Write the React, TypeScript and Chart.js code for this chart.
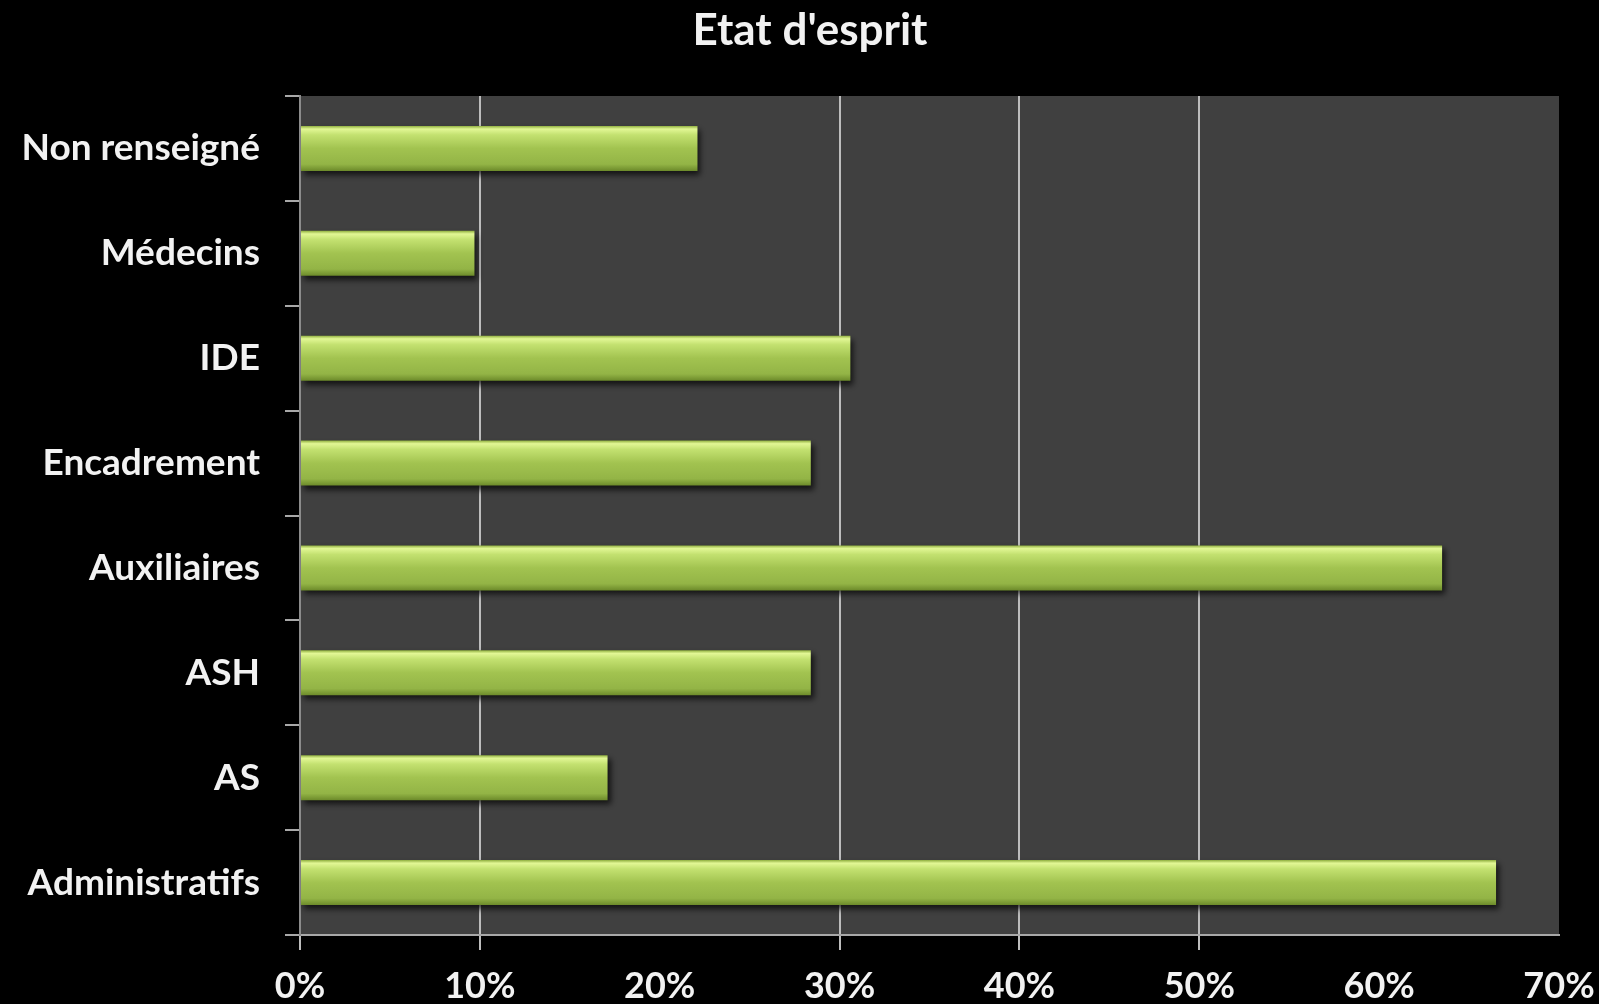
import React, { useEffect, useRef } from "react";
import { Chart, registerables } from "chart.js";

Chart.register(...registerables);

const TITLE = "Etat d'esprit";
const CATEGORIES = ["Non renseigné", "Médecins", "IDE", "Encadrement", "Auxiliaires", "ASH", "AS", "Administratifs"];
const SERIES = [22.1, 9.7, 30.6, 28.4, 63.5, 28.4, 17.1, 66.5];
const X_TICKS = [0, 10, 20, 30, 40, 50, 60, 70];
const GRID_SHOWN = [0, 10, 30, 40, 50];

const shadowPlugin = {
  id: "barShadow",
  beforeDatasetsDraw(chart: any) {
    const c = chart.ctx;
    c.save();
    c.shadowColor = "rgba(0,0,0,0.7)";
    c.shadowBlur = 6;
    c.shadowOffsetX = 3;
    c.shadowOffsetY = 4;
  },
  afterDatasetsDraw(chart: any) {
    chart.ctx.restore();
  },
};

const plotBgPlugin = {
  id: "plotBg",
  beforeDraw(chart: any) {
    const { ctx, chartArea } = chart;
    if (!chartArea) return;
    ctx.save();
    ctx.fillStyle = "#000000";
    ctx.fillRect(0, 0, chart.width, chart.height);
    ctx.fillStyle = "#404040";
    ctx.fillRect(chartArea.left, chartArea.top, chartArea.right - chartArea.left, chartArea.bottom - chartArea.top);
    ctx.restore();
  },
};

const titlePlugin = {
  id: "customTitle",
  afterDraw(chart: any) {
    const ctx = chart.ctx;
    ctx.save();
    ctx.fillStyle = "#f2f2f2";
    ctx.font = "bold 44px Lato";
    ctx.textAlign = "center";
    ctx.textBaseline = "middle";
    ctx.fillText(TITLE, 810, 31);
    ctx.restore();
  },
};

export default function App() {
  const ref = useRef<HTMLCanvasElement | null>(null);
  useEffect(() => {
    document.body.style.margin = "0";
    document.body.style.background = "#000";
    const canvas = ref.current!;
    const BAR_FRAC = 0.43;
    const chart = new Chart(canvas, {
      type: "bar",
      data: {
        labels: CATEGORIES,
        datasets: [
          {
            data: SERIES,
            backgroundColor: (ctx: any) => {
              const ch = ctx.chart;
              const ys = ch.scales && ch.scales.y;
              if (!ys || !ch.chartArea || ctx.dataIndex === undefined) return "#9bbb59";
              const yc = ys.getPixelForValue(ctx.dataIndex);
              const step = (ch.chartArea.bottom - ch.chartArea.top) / CATEGORIES.length;
              const h = step * BAR_FRAC;
              const g = ch.ctx.createLinearGradient(0, yc - h / 2, 0, yc + h / 2);
              g.addColorStop(0, "#8fae3e");
              g.addColorStop(0.07, "#e2f795");
              g.addColorStop(0.2, "#c3e170");
              g.addColorStop(0.5, "#a2c350");
              g.addColorStop(0.85, "#93b446");
              g.addColorStop(1, "#6c8a2a");
              return g;
            },
            borderWidth: 0,
            categoryPercentage: 1,
            barPercentage: BAR_FRAC,
          },
        ],
      },
      options: {
        indexAxis: "y",
        animation: false,
        responsive: false,
        maintainAspectRatio: false,
        layout: { padding: { left: 0, right: 40, top: 96, bottom: 0 } },
        plugins: {
          legend: { display: false },
          tooltip: { enabled: false },
          title: { display: false },
        },
        scales: {
          x: {
            min: 0,
            max: 70,
            afterBuildTicks: (scale: any) => {
              scale.ticks = X_TICKS.map((v) => ({ value: v }));
            },
            afterFit: (scale: any) => {
              scale.height = 69;
              scale.paddingLeft = 0;
              scale.paddingRight = 0;
            },
            ticks: {
              color: "#f2f2f2",
              font: { family: "Lato", size: 36, weight: "bold" },
              padding: 15,
              maxRotation: 0,
              autoSkip: false,
              callback: (v: any) => v + "%",
            },
            grid: {
              color: (ctx: any) =>
                ctx.tick && GRID_SHOWN.includes(ctx.tick.value) && ctx.tick.value !== 0 ? "#bdbdbd" : "rgba(0,0,0,0)",
              tickColor: (ctx: any) =>
                ctx.tick && GRID_SHOWN.includes(ctx.tick.value) ? "#bdbdbd" : "rgba(0,0,0,0)",
              lineWidth: 2,
              tickLength: 15,
            },
            border: { display: true, color: "#a8a8a8", width: 2 },
          },
          y: {
            afterFit: (scale: any) => {
              scale.width = 300;
            },
            ticks: {
              color: "#f2f2f2",
              font: { family: "Lato", size: 37, weight: "bold" },
              padding: 25,
              autoSkip: false,
            },
            grid: {
              display: true,
              drawOnChartArea: false,
              offset: true,
              color: "#a8a8a8",
              tickColor: "#a8a8a8",
              lineWidth: 2,
              tickLength: 15,
            },
            border: { display: true, color: "#8c8c8c", width: 2 },
          },
        },
      },
      plugins: [plotBgPlugin, shadowPlugin, titlePlugin],
    } as any);
    return () => chart.destroy();
  }, []);
  return <canvas ref={ref} width={1599} height={1004} style={{ display: "block" }} />;
}
